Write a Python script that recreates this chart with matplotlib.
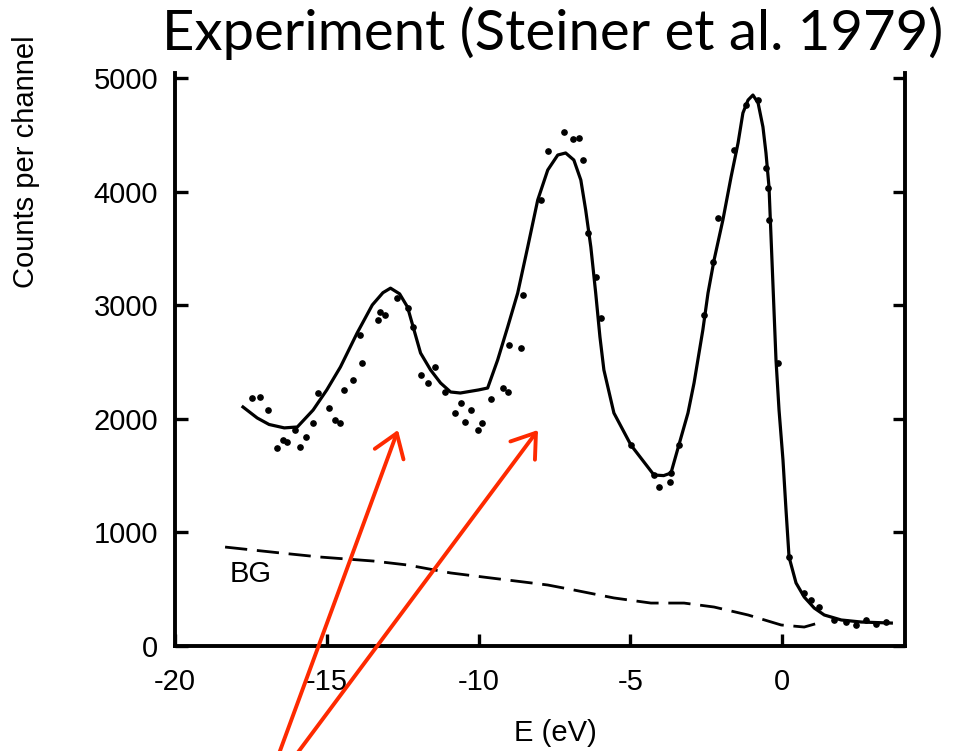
import matplotlib
matplotlib.use('Agg')
import matplotlib.pyplot as plt

plt.rcParams['axes.unicode_minus'] = False

# fitted spectrum (solid line), energy in eV / counts per channel
fit_e = [-17.76, -17.29, -16.9, -16.4, -15.97, -15.45, -15.0, -14.55, -14.0, -13.5,
         -13.15, -12.9, -12.6, -12.34, -11.91, -11.58, -11.25, -10.92, -10.6, -10.0,
         -9.7, -9.37, -9.04, -8.71, -8.38, -8.05, -7.72, -7.39, -7.13, -6.86,
         -6.63, -6.47, -6.30, -6.14, -6.0, -5.87, -5.54, -4.98, -4.22, -3.9,
         -3.66, -3.40, -3.1, -2.9, -2.61, -2.44, -2.24, -1.95, -1.68, -1.45,
         -1.29, -1.12, -0.96, -0.79, -0.63, -0.53, -0.43, -0.20, -0.10, 0.03,
         0.13, 0.23, 0.46, 0.73, 1.06, 1.39, 1.95, 2.61, 3.6]
fit_c = [2104, 2007, 1950, 1920, 1928, 2077, 2254, 2456, 2755, 3002,
         3110, 3150, 3100, 2984, 2579, 2430, 2315, 2236, 2227, 2254,
         2271, 2518, 2808, 3107, 3512, 3926, 4190, 4322, 4340, 4278,
         4102, 3838, 3512, 3107, 2720, 2430, 2051, 1769, 1505, 1500,
         1523, 1769, 2051, 2315, 2782, 3107, 3398, 3750, 4129, 4428,
         4692, 4806, 4850, 4780, 4569, 4340, 4040, 2518, 2077, 1637,
         1197, 783, 555, 431, 334, 273, 229, 211, 202]

# measured points
pts_e = [-17.46, -17.19, -16.93, -16.63, -16.44, -16.30, -16.04, -15.87, -15.68, -15.45,
         -15.28, -14.92, -14.72, -14.55, -14.42, -14.13, -13.83, -13.89, -13.30, -13.23,
         -13.07, -12.67, -12.34, -12.15, -11.91, -11.68, -11.42, -11.09, -10.76, -10.59,
         -10.43, -10.26, -10.03, -9.87, -9.60, -9.21, -9.04, -9.01, -8.61, -8.55,
         -7.95, -7.72, -7.19, -6.90, -6.70, -6.57, -6.40, -6.14, -5.97, -4.98,
         -4.22, -4.06, -3.70, -3.66, -3.40, -2.57, -2.28, -2.11, -1.58, -1.19,
         -0.79, -0.53, -0.46, -0.43, -0.13, 0.23, 0.73, 0.96, 1.22, 1.72,
         2.11, 2.44, 2.77, 3.10, 3.43]
pts_c = [2183, 2192, 2077, 1743, 1813, 1796, 1901, 1752, 1840, 1963,
         2227, 2095, 1989, 1963, 2254, 2342, 2491, 2738, 2870, 2940,
         2914, 3063, 2975, 2808, 2386, 2315, 2456, 2236, 2051, 2139,
         1972, 2077, 1901, 1963, 2174, 2271, 2236, 2650, 2623, 3090,
         3926, 4357, 4525, 4463, 4472, 4278, 3636, 3248, 2887, 1769,
         1505, 1400, 1444, 1523, 1769, 2914, 3380, 3768, 4366, 4762,
         4806, 4208, 4032, 3750, 2491, 783, 467, 405, 343, 229,
         211, 185, 229, 194, 211]

# background (dashed)
bg_e = [-18.35, -16.53, -15.21, -13.47, -12.34, -10.92, -9.6, -8.5, -7.72, -6.86,
        -5.54, -4.32, -3.23, -2.24, -1.12, -0.03, 0.73, 1.19]
bg_c = [871, 819, 783, 748, 713, 643, 599, 563, 537, 493,
        423, 378, 378, 343, 273, 185, 167, 202]

xticks = [-20, -15, -10, -5, 0]
yticks = [0, 1000, 2000, 3000, 4000, 5000]

W, H = 956, 751
fig = plt.figure(figsize=(W / 100, H / 100), dpi=100)
ax = fig.add_axes([175 / W, 1 - 646 / H, 730 / W, 573 / H])

ax.plot(fit_e, fit_c, color='black', lw=2.3, solid_joinstyle='round')
ax.plot(pts_e, pts_c, ls='none', marker='o', ms=3.8, color='black')
ax.plot(bg_e, bg_c, color='black', lw=2.0, dashes=(8, 3.5))
ax.text(-18.2, 560, 'BG', fontsize=21, family='Liberation Sans', va='baseline')

ax.set_xlim(-20, 4.05)
ax.set_ylim(0, 5044)
ax.set_xticks(xticks)
ax.set_yticks(yticks)
ax.spines['top'].set_visible(False)
for s in ['left', 'right', 'bottom']:
    ax.spines[s].set_linewidth(2.8)
ax.tick_params(axis='both', direction='in', length=9, width=2.4,
               labelsize=21, right=True)
ax.tick_params(axis='y', pad=12)
ax.tick_params(axis='x', pad=16)
for lab in ax.get_xticklabels() + ax.get_yticklabels():
    lab.set_family('Liberation Sans')

fig.text(26 / W, 1 - 162 / H, 'Counts per channel', rotation=90, ha='center',
         va='center', fontsize=21, family='Liberation Sans')
fig.text(555 / W, 1 - 733 / H, 'E (eV)', ha='center', va='center',
         fontsize=21, family='Liberation Sans')
title = fig.text(162 / W, 1 - 50 / H, 'Experiment (Steiner et al. 1979)', ha='left',
                 va='baseline', fontsize=40, family='Lato')

# shrink the title so it spans 162..943 px
r = fig.canvas.get_renderer()
tw = title.get_window_extent(r).width
title.set_fontsize(40 * 781 / tw)

# red arrows pointing at the satellite peaks
for tail, tip in [((277, -8), (398, H - 430)), ((293, -8), (538, H - 430))]:
    ax.annotate('', xy=tip, xycoords='figure pixels', xytext=tail,
                textcoords='figure pixels', annotation_clip=False,
                arrowprops=dict(arrowstyle='->,head_length=0.8,head_width=0.55',
                                mutation_scale=20, color='#fe2a00', lw=2.8,
                                shrinkA=0, shrinkB=0))

fig.savefig('out.png', dpi=100)
